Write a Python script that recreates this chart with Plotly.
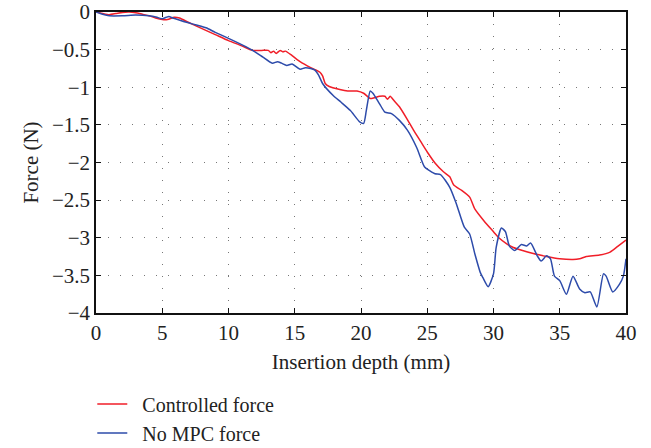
import plotly.graph_objects as go

# Controlled force (red)
ctrl_x = [0, 0.5, 1.0, 1.5, 2.0, 2.5, 3.0, 3.5, 4.0, 4.5, 5.0, 5.4, 5.9, 6.3, 7.0, 8.0, 9.0,
          10.0, 11.0, 11.8, 12.5, 13.0, 13.2, 13.4, 13.6, 13.9, 14.1, 14.3, 14.8, 15.4, 16.2,
          16.9, 17.1, 17.3, 17.6, 18.4, 19.0, 19.7, 20.2, 20.7, 21.0, 21.4, 21.8, 22.0, 22.2,
          22.5, 22.9, 23.5, 24.0, 24.5, 25.0, 25.6, 26.2, 26.7, 27.0, 27.6, 28.2, 28.6, 29.3,
          30.0, 30.4, 31.0, 31.5, 32.0, 33.0, 34.0, 35.0, 36.0, 36.5, 37.0, 38.0, 38.8, 39.4, 40.0]
ctrl_y = [0, -0.02, -0.035, -0.02, -0.005, 0.0, -0.01, -0.03, -0.05, -0.08, -0.10, -0.10, -0.07,
          -0.08, -0.14, -0.22, -0.30, -0.38, -0.45, -0.51, -0.51, -0.51, -0.54, -0.52, -0.55,
          -0.51, -0.53, -0.52, -0.58, -0.66, -0.74, -0.80, -0.85, -0.95, -0.99, -1.03, -1.05,
          -1.05, -1.08, -1.15, -1.14, -1.12, -1.12, -1.16, -1.12, -1.18, -1.26, -1.43, -1.58,
          -1.72, -1.86, -2.01, -2.12, -2.19, -2.30, -2.37, -2.46, -2.62, -2.78, -2.92, -3.00,
          -3.08, -3.13, -3.16, -3.21, -3.25, -3.28, -3.29, -3.28, -3.25, -3.23, -3.19, -3.11, -3.03]

# No MPC force (blue)
nompc_x = [0, 0.5, 1.0, 2.0, 3.0, 4.0, 4.6, 5.0, 5.3, 5.5, 5.8, 6.5, 7.5, 8.3, 9.0, 10.0, 11.3,
           12.0, 12.6, 13.3, 13.7, 14.0, 14.4, 14.8, 15.4, 15.8, 16.2, 16.5, 16.8, 17.1, 17.9,
           18.5, 19.2, 19.9, 20.2, 20.4, 20.7, 20.9, 21.4, 21.8, 22.3, 22.9, 23.5, 24.2, 24.8,
           25.2, 25.6, 26.0, 26.7, 27.2, 27.8, 28.2, 28.6, 29.0, 29.2, 29.6, 30.0, 30.2, 30.6,
           30.9, 31.2, 31.6, 32.1, 32.5, 32.8, 33.3, 33.6, 34.0, 34.3, 34.6, 35.0, 35.5, 36.0,
           36.5, 36.9, 37.3, 37.8, 38.3, 38.5, 39.0, 39.5, 39.8, 40.0]
nompc_y = [0, -0.03, -0.05, -0.05, -0.04, -0.05, -0.07, -0.09, -0.07, -0.06, -0.08, -0.12, -0.17,
           -0.21, -0.27, -0.35, -0.46, -0.53, -0.60, -0.68, -0.66, -0.68, -0.71, -0.69, -0.76,
           -0.74, -0.75, -0.77, -0.84, -0.95, -1.11, -1.20, -1.31, -1.46, -1.48, -1.31, -1.05,
           -1.08, -1.22, -1.33, -1.35, -1.44, -1.57, -1.80, -2.06, -2.11, -2.15, -2.16, -2.33,
           -2.55, -2.86, -2.95, -3.22, -3.46, -3.53, -3.65, -3.48, -3.13, -2.87, -2.92, -3.11,
           -3.17, -3.09, -3.11, -3.07, -3.24, -3.31, -3.24, -3.28, -3.51, -3.57, -3.75, -3.51,
           -3.68, -3.73, -3.72, -3.92, -3.48, -3.51, -3.72, -3.62, -3.51, -3.28]

series_names = ["Controlled force", "No MPC force"]

x_ticks = [0, 5, 10, 15, 20, 25, 30, 35, 40]
y_ticks = [0, -0.5, -1, -1.5, -2, -2.5, -3, -3.5, -4]
y_tick_text = ["0", "\u22120.5", "\u22121", "\u22121.5", "\u22122", "\u22122.5", "\u22123", "\u22123.5", "\u22124"]

FONT = "Liberation Serif, Times New Roman, serif"
FS = 21
TXT = "#222"
PAD = "\u00a0\u00a0"

fig = go.Figure()
fig.add_trace(go.Scatter(x=ctrl_x, y=ctrl_y, mode="lines", name=PAD + series_names[0],
                         line=dict(color="rgb(240,30,40)", width=1.5, shape="spline", smoothing=0.6)))
fig.add_trace(go.Scatter(x=nompc_x, y=nompc_y, mode="lines", name=PAD + series_names[1],
                         line=dict(color="rgb(45,75,170)", width=1.5, shape="spline", smoothing=0.6)))

axis_common = dict(
    showline=True, linecolor="#111", linewidth=1.5, mirror="ticks",
    ticks="inside", ticklen=5, tickcolor="#111", tickwidth=1.2,
    showgrid=True, gridcolor="#777", gridwidth=1, griddash="1px,11px",
    zeroline=False, automargin=False, tickfont=dict(family=FONT, size=FS, color=TXT),
)

fig.update_xaxes(range=[0, 40], tickvals=x_ticks, ticktext=[str(v) for v in x_ticks],
                 title=dict(text="Insertion depth (mm)", font=dict(family=FONT, size=FS, color=TXT), standoff=10),
                 **axis_common)
fig.update_yaxes(range=[-4, 0], tickvals=y_ticks, ticktext=y_tick_text,
                 title=dict(text="Force (N)", font=dict(family=FONT, size=FS, color=TXT), standoff=8),
                 **axis_common)

fig.update_layout(
    width=651, height=448,
    margin=dict(l=96, r=25, t=12, b=135, autoexpand=False),
    plot_bgcolor="white", paper_bgcolor="white",
    font=dict(family=FONT, size=FS, color=TXT),
    showlegend=True,
    legend=dict(x=-0.007, xanchor="left", xref="paper", y=0.142, yanchor="top", yref="container",
                orientation="v",
                font=dict(family=FONT, size=20, color=TXT), bgcolor="rgba(0,0,0,0)",
                tracegroupgap=0, itemwidth=30),
)

fig.write_html("out.html")
